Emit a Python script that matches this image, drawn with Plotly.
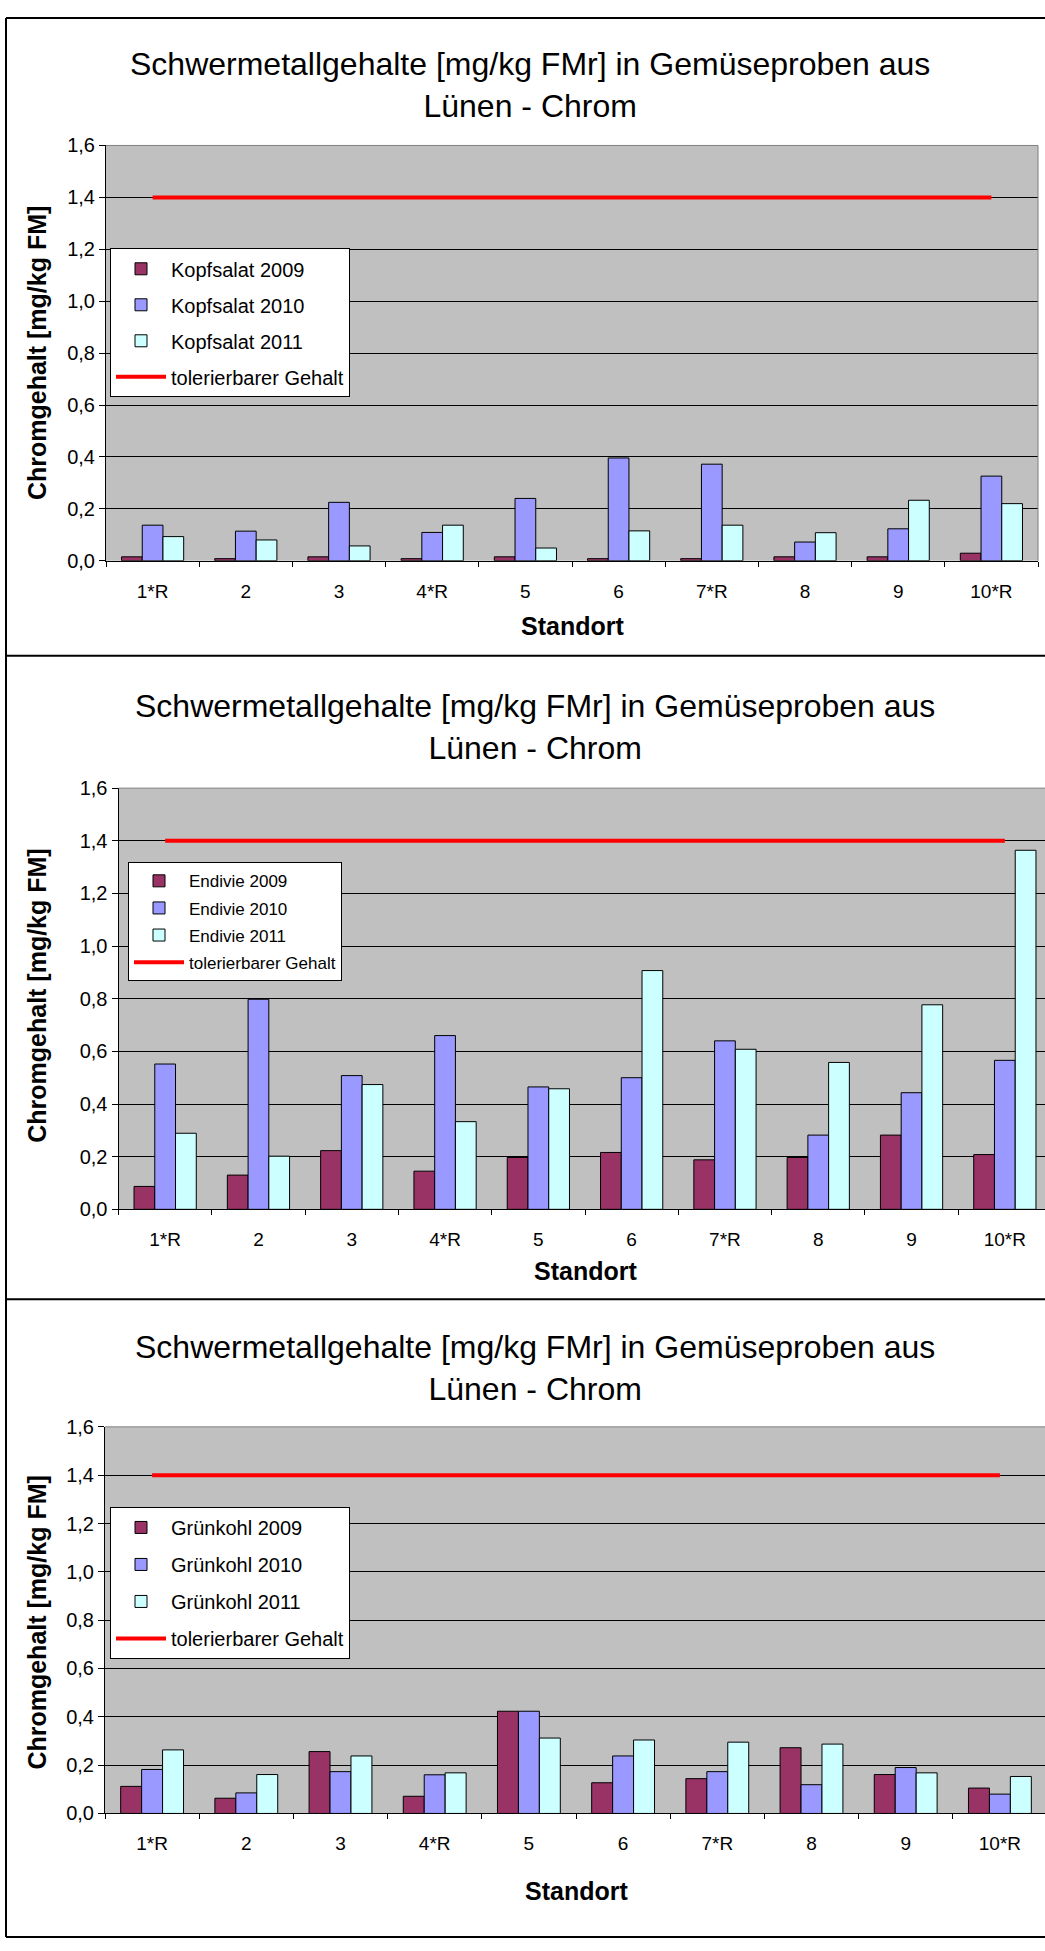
import plotly.graph_objects as go

W, H = 1045, 1951

# ---------------- data ----------------
standorte = ["1*R", "2", "3", "4*R", "5", "6", "7*R", "8", "9", "10*R"]

kopfsalat_2009 = [0.015, 0.008, 0.015, 0.008, 0.015, 0.008, 0.008, 0.015, 0.015, 0.029]
kopfsalat_2010 = [0.137, 0.114, 0.225, 0.109, 0.240, 0.396, 0.372, 0.072, 0.123, 0.326]
kopfsalat_2011 = [0.093, 0.080, 0.057, 0.137, 0.049, 0.115, 0.137, 0.108, 0.233, 0.220]

endivie_2009 = [0.087, 0.130, 0.223, 0.145, 0.197, 0.216, 0.188, 0.197, 0.282, 0.208]
endivie_2010 = [0.552, 0.798, 0.508, 0.660, 0.465, 0.500, 0.640, 0.282, 0.443, 0.566]
endivie_2011 = [0.289, 0.202, 0.474, 0.333, 0.458, 0.907, 0.608, 0.558, 0.777, 1.364]

gruenkohl_2009 = [0.112, 0.063, 0.256, 0.071, 0.423, 0.127, 0.144, 0.272, 0.161, 0.105]
gruenkohl_2010 = [0.182, 0.085, 0.173, 0.160, 0.423, 0.238, 0.173, 0.119, 0.190, 0.080]
gruenkohl_2011 = [0.263, 0.161, 0.238, 0.168, 0.312, 0.304, 0.295, 0.287, 0.168, 0.153]

tolerierbar = [1.4] * len(standorte)

y_ticks = [0.0, 0.2, 0.4, 0.6, 0.8, 1.0, 1.2, 1.4, 1.6]

title_text = "Schwermetallgehalte [mg/kg FMr] in Gemüseproben aus<br>Lünen - Chrom"
y_title = "Chromgehalt [mg/kg FM]"
x_title = "Standort"

# ---------------- layout helpers ----------------
def fx(p):
    return p / W


def fy(p):
    return 1 - p / H


FONT = "Liberation Sans, Arial, sans-serif"
C2009, C2010, C2011 = "#993366", "#9999FF", "#CCFFFF"

panels = [
    dict(name="Kopfsalat", vals=(kopfsalat_2009, kopfsalat_2010, kopfsalat_2011),
         xl=106, xr=1038, yt=136, yb=556, cat_w=93.2,
         title_xy=(530, 75), ytitle_xy=(37, 346), xtitle_xy=(572, 622),
         leg_xy=(110, 240), leg_font=20, leg_gap=7, right_border=True),
    dict(name="Endivie", vals=(endivie_2009, endivie_2010, endivie_2011),
         xl=118.5, xr=1045, yt=786, yb=1212, cat_w=93.3,
         title_xy=(535, 724), ytitle_xy=(37, 996), xtitle_xy=(585, 1274),
         leg_xy=(128, 861), leg_font=17, leg_gap=2, right_border=False),
    dict(name="Grünkohl", vals=(gruenkohl_2009, gruenkohl_2010, gruenkohl_2011),
         xl=105, xr=1045, yt=1432, yb=1823, cat_w=94.2,
         title_xy=(535, 1372), ytitle_xy=(37, 1630), xtitle_xy=(576, 1901),
         leg_xy=(110, 1513), leg_font=20, leg_gap=8, right_border=False),
]

fig = go.Figure()
annotations = []
shapes = []
layout_extra = {}

for i, p in enumerate(panels):
    n = "" if i == 0 else str(i + 1)
    xa, ya = "x" + n, "y" + n
    leg = "legend" + n
    years = ["2009", "2010", "2011"]
    colors = [C2009, C2010, C2011]
    for k in range(3):
        fig.add_trace(go.Bar(
            x=standorte, y=p["vals"][k], name=f"{p['name']} {years[k]}",
            marker=dict(color=colors[k], line=dict(color="black", width=1)),
            xaxis=xa, yaxis=ya, legend=leg, legendgroup=f"{leg}_{k}",
        ))
    fig.add_trace(go.Scatter(
        x=standorte, y=tolerierbar, mode="lines", name="tolerierbarer Gehalt",
        line=dict(color="#FF0000", width=4),
        xaxis=xa, yaxis=ya, legend=leg, legendgroup=f"{leg}_line",
    ))

    rng_end = -0.5 + (p["xr"] - p["xl"]) / p["cat_w"]
    layout_extra["xaxis" + n] = dict(
        domain=[fx(p["xl"]), fx(p["xr"])], anchor=ya, type="category",
        range=[-0.5, rng_end], tickson="boundaries", ticks="outside", ticklen=5,
        tickwidth=1, tickcolor="black", showline=True, linecolor="black", linewidth=1,
        showgrid=False, zeroline=False, tickfont=dict(size=19, color="black"),
        ticklabelstandoff=13, fixedrange=True,
    )
    layout_extra["yaxis" + n] = dict(
        domain=[fy(p["yb"]), fy(p["yt"])], anchor=xa, range=[0, 1.6],
        tickvals=y_ticks, tickformat=".1f", ticks="outside", ticklen=6,
        tickwidth=1, tickcolor="black", showline=True, linecolor="black", linewidth=1,
        showgrid=True, gridcolor="black", gridwidth=1, zeroline=False,
        tickfont=dict(size=20, color="black"), fixedrange=True,
    )
    layout_extra[leg] = dict(
        x=fx(p["leg_xy"][0]), y=fy(p["leg_xy"][1]), xanchor="left", yanchor="top",
        bgcolor="white", bordercolor="black", borderwidth=1,
        font=dict(size=p["leg_font"], color="black", family=FONT),
        traceorder="grouped", tracegroupgap=p["leg_gap"], itemwidth=50,
    )

    # plot-area border (grey) on top / right
    shapes.append(dict(type="line", xref=xa + " domain", yref=ya + " domain",
                       x0=0, x1=1, y0=1, y1=1, line=dict(color="#808080", width=1)))
    if p["right_border"]:
        shapes.append(dict(type="line", xref=xa + " domain", yref=ya + " domain",
                           x0=1, x1=1, y0=0, y1=1, line=dict(color="#808080", width=1)))

    annotations.append(dict(
        text=title_text, x=fx(p["title_xy"][0]), y=fy(p["title_xy"][1]),
        xref="paper", yref="paper", xanchor="center", yanchor="middle",
        showarrow=False, font=dict(size=32, color="black", family=FONT),
    ))
    annotations.append(dict(
        text=f"<b>{y_title}</b>", x=fx(p["ytitle_xy"][0]), y=fy(p["ytitle_xy"][1]),
        xref="paper", yref="paper", xanchor="center", yanchor="middle", textangle=-90,
        showarrow=False, font=dict(size=25, color="black", family=FONT),
    ))
    annotations.append(dict(
        text=f"<b>{x_title}</b>", x=fx(p["xtitle_xy"][0]), y=fy(p["xtitle_xy"][1]),
        xref="paper", yref="paper", xanchor="center", yanchor="middle",
        showarrow=False, font=dict(size=25, color="black", family=FONT),
    ))

# outer frame and separators
for yy in [7, 652, 1303, 1948]:
    shapes.append(dict(type="line", xref="paper", yref="paper",
                       x0=fx(6), x1=1, y0=fy(yy), y1=fy(yy),
                       line=dict(color="black", width=2)))
shapes.append(dict(type="line", xref="paper", yref="paper",
                   x0=fx(6), x1=fx(6), y0=fy(7), y1=fy(1948),
                   line=dict(color="black", width=2)))

fig.update_layout(
    width=W, height=H, margin=dict(l=0, r=0, t=0, b=0),
    paper_bgcolor="white", plot_bgcolor="#C0C0C0",
    font=dict(family=FONT, color="black"),
    separators=",.", barmode="group", bargap=0.333, bargroupgap=0,
    annotations=annotations, shapes=shapes, showlegend=True,
    **layout_extra,
)

fig.write_html("out.html")
